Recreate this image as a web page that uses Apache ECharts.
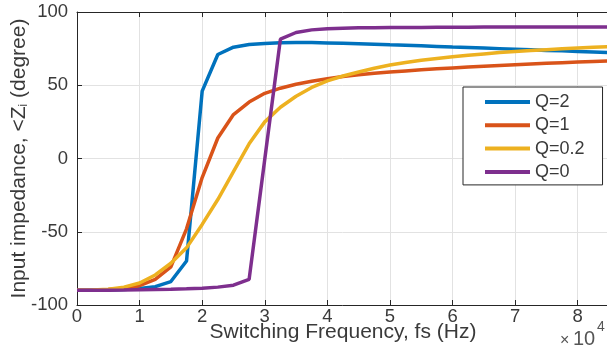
<!DOCTYPE html>
<html>
<head>
<meta charset="utf-8">
<script src="https://cdn.jsdelivr.net/npm/echarts@6/dist/echarts.min.js"></script>
<style>
html,body{margin:0;padding:0;background:#fff;}
#chart{width:607px;height:350px;}
</style>
</head>
<body>
<div id="chart"></div>
<script>
// Frequency in units of 10^4 Hz
var freq = [0,0.25,0.5,0.75,1,1.25,1.5,1.75,2,2.25,2.5,2.75,3,3.25,3.5,3.75,4,4.25,4.5,4.75,5,5.25,5.5,5.75,6,6.25,6.5,6.75,7,7.25,7.5,7.75,8,8.25,8.5];
var seriesNames = ['Q=2','Q=1','Q=0.2','Q=0'];
var q2 = [-90,-89.9,-89.7,-89.4,-88.8,-87.5,-84,-70,46,71,76,77.8,78.5,79,79.2,79.1,78.9,78.6,78.3,78,77.6,77.3,76.9,76.5,76.1,75.8,75.4,75,74.6,74.2,73.8,73.5,73.1,72.7,72.3];
var q1 = [-90,-89.9,-89.5,-88.6,-86.8,-82.5,-74,-48,-13,14,30,38.5,44.5,48,50.7,52.7,54.5,56,57.2,58.2,59,59.8,60.5,61.2,61.8,62.4,63,63.5,64,64.5,65,65.4,65.8,66.2,66.6];
var q02 = [-90,-89.8,-89.2,-87.8,-85,-79.5,-71.5,-61,-45,-28,-9,10,25,35,42.5,48.5,53,56.3,59,61.6,63.8,65.5,67,68.3,69.5,70.5,71.4,72.3,73,73.7,74.3,74.9,75.4,75.9,76.3];
var q0 = [-90,-90,-89.9,-89.8,-89.6,-89.4,-89.2,-88.9,-88.5,-87.8,-86.5,-82.5,-0.5,81.5,86,87.8,88.6,88.9,89.2,89.3,89.4,89.5,89.5,89.6,89.6,89.6,89.7,89.7,89.7,89.7,89.8,89.8,89.8,89.8,89.8];
var colors = ['#0072BD','#D95319','#EDB120','#7E2F8E'];
var xTicks = [0,1,2,3,4,5,6,7,8];
var yTicks = [-100,-50,0,50,100];

function pairs(ys){ return freq.map(function(f,i){ return [f, ys[i]]; }); }
var allData = [q2,q1,q02,q0];

var axisColor = '#262626';
var textColor = '#3a3a3a';
var chart = echarts.init(document.getElementById('chart'), null, {renderer:'canvas'});
chart.setOption({
  animation:false,
  backgroundColor:'#ffffff',
  grid:{left:77, top:12, width:532, height:293, show:false, containLabel:false, outerBoundsMode:'none'},
  legend:{
    orient:'vertical', left:463, top:87,
    data: seriesNames,
    icon:'rect', itemWidth:45, itemHeight:4, itemGap:3.3,
    padding:[5,18,3,22],
    backgroundColor:'#ffffff', borderColor:axisColor, borderWidth:1, borderRadius:0,
    textStyle:{fontFamily:'Liberation Sans', fontSize:18, color:textColor, lineHeight:20}
  },
  xAxis:[{
    type:'value', min:0, max:8.5, interval:1, position:'bottom',
    name:'Switching Frequency, fs (Hz)', nameLocation:'middle', nameGap:17, nameMoveOverlap:false,
    nameTextStyle:{fontFamily:'Liberation Sans', fontSize:21, color:textColor},
    axisLine:{show:true, onZero:false, lineStyle:{color:axisColor, width:1}},
    axisTick:{show:true, inside:true, length:5, lineStyle:{color:axisColor}},
    axisLabel:{fontFamily:'Liberation Sans', fontSize:18.5, color:textColor, margin:2,
      formatter:function(v){ return xTicks.indexOf(v) >= 0 ? String(v) : ''; }},
    splitLine:{show:true, lineStyle:{color:'#e2e2e2', width:1}}
  },{
    type:'value', min:0, max:8.5, interval:1, position:'top',
    axisLine:{show:true, onZero:false, lineStyle:{color:axisColor, width:1}},
    axisTick:{show:true, inside:true, length:5, lineStyle:{color:axisColor}},
    axisLabel:{show:false}, splitLine:{show:false}
  }],
  yAxis:[{
    type:'value', min:-100, max:100, interval:50,
    name:'Input impedance, <Z{sub|i} (degree)', nameLocation:'middle', nameGap:47, nameMoveOverlap:false,
    nameTextStyle:{fontFamily:'Liberation Sans', fontSize:21, color:textColor,
      rich:{sub:{fontFamily:'Liberation Sans', fontSize:12, color:textColor, verticalAlign:'bottom', padding:[10,0,0,0]}}},
    axisLine:{show:true, onZero:false, lineStyle:{color:axisColor, width:1}},
    axisTick:{show:true, inside:true, length:5, lineStyle:{color:axisColor}},
    axisLabel:{fontFamily:'Liberation Sans', fontSize:18.5, color:textColor, margin:9, padding:[4,0,0,0],
      formatter:function(v){ return yTicks.indexOf(v) >= 0 ? String(v) : ''; }},
    splitLine:{show:true, lineStyle:{color:'#e2e2e2', width:1}}
  }],
  graphic:[
    {type:'text', left:560, top:333, style:{text:'×', fontFamily:'Liberation Sans', fontSize:16, fill:'#555555'}},
    {type:'text', left:573, top:329, style:{text:'10', fontFamily:'Liberation Sans', fontSize:20, fill:'#555555'}},
    {type:'text', left:597, top:320, style:{text:'4', fontFamily:'Liberation Sans', fontSize:14, fill:'#555555'}}
  ],
  series: seriesNames.map(function(n,i){
    return {name:n, type:'line', data:pairs(allData[i]), showSymbol:false, symbol:'none',
      color:colors[i], lineStyle:{color:colors[i], width:3.5}, z:2+i, clip:true};
  })
});
</script>
</body>
</html>
